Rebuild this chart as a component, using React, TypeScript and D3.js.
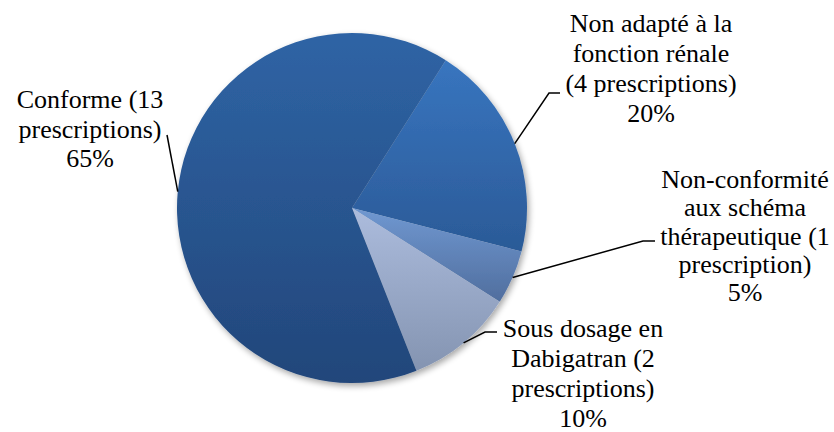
import React from "react";
import * as d3 from "d3";

const categories = [
  "Non adapté à la fonction rénale",
  "Non-conformité aux schéma thérapeutique",
  "Sous dosage en Dabigatran",
  "Conforme",
];
const counts = [4, 1, 2, 13];
const percentLabels = ["20%", "5%", "10%", "65%"];
const labelLines = [
  ["Non adapté à la", "fonction rénale", "(4 prescriptions)", "20%"],
  ["Non-conformité", "aux schéma", "thérapeutique (1", "prescription)", "5%"],
  ["Sous dosage en", "Dabigatran (2", "prescriptions)", "10%"],
  ["Conforme (13", "prescriptions)", "65%"],
];

// styles / layout
const gradTop = ["#3875BF", "#7098D1", "#ACBCDD", "#2F64A5"];
const gradBottom = ["#2B5A97", "#506E9E", "#8494B1", "#22467A"];
const labelLayout = [
  { cx: 651, y0: 32, knee: [549, 93], end: [560, 93] },
  { cx: 745, y0: 188, knee: [643, 241], end: [655, 241] },
  { cx: 583, y0: 337, knee: [485, 332], end: [497, 332] },
  { cx: 90, y0: 108, knee: [167, 135], end: [167, 135] },
];
const lineStep = [30, 28.3, 30, 29.5];

const W = 834, H = 432;
const cx = 352, cy = 208, R = 175;
const startDeg = 32.4;

export default function App() {
  const pie = d3
    .pie<number>()
    .sort(null)
    .value((d) => d)
    .startAngle((startDeg * Math.PI) / 180)
    .endAngle(((startDeg + 360) * Math.PI) / 180);
  const arcs = pie(counts);
  const arcGen = d3.arc<d3.PieArcDatum<number>>().innerRadius(0).outerRadius(R);

  return (
    <svg width={W} height={H} style={{ position: "absolute", left: 0, top: 0, background: "#fff" }}>
      <defs>
        {arcs.map((a, i) => (
          <linearGradient key={i} id={`g${i}`} x1="0" y1="0" x2="0" y2="1">
            <stop offset="0" stopColor={gradTop[i]} />
            <stop offset="1" stopColor={gradBottom[i]} />
          </linearGradient>
        ))}
        <filter id="sh" x="-20%" y="-20%" width="140%" height="140%">
          <feGaussianBlur in="SourceAlpha" stdDeviation="3" />
          <feOffset dx="2" dy="3" result="b" />
          <feComponentTransfer>
            <feFuncA type="linear" slope="0.35" />
          </feComponentTransfer>
          <feMerge>
            <feMergeNode />
            <feMergeNode in="SourceGraphic" />
          </feMerge>
        </filter>
      </defs>
      <g transform={`translate(${cx},${cy})`} filter="url(#sh)">
        {arcs.map((a, i) => (
          <path key={i} d={arcGen(a) || ""} fill={`url(#g${i})`} />
        ))}
      </g>
      {arcs.map((a, i) => {
        const mid = (a.startAngle + a.endAngle) / 2;
        const px = cx + R * Math.sin(mid);
        const py = cy - R * Math.cos(mid);
        const L = labelLayout[i];
        return (
          <polyline
            key={"l" + i}
            points={`${px},${py} ${L.knee[0]},${L.knee[1]} ${L.end[0]},${L.end[1]}`}
            fill="none"
            stroke="#000"
            strokeWidth={1.5}
          />
        );
      })}
      {labelLines.map((lines, i) => {
        const L = labelLayout[i];
        return (
          <text
            key={"t" + i}
            textAnchor="middle"
            fontFamily="Liberation Serif"
            fontSize={26}
            fill="#000"
          >
            {lines.map((s, j) => (
              <tspan key={j} x={L.cx} y={L.y0 + j * lineStep[i]}>
                {s}
              </tspan>
            ))}
          </text>
        );
      })}
    </svg>
  );
}
